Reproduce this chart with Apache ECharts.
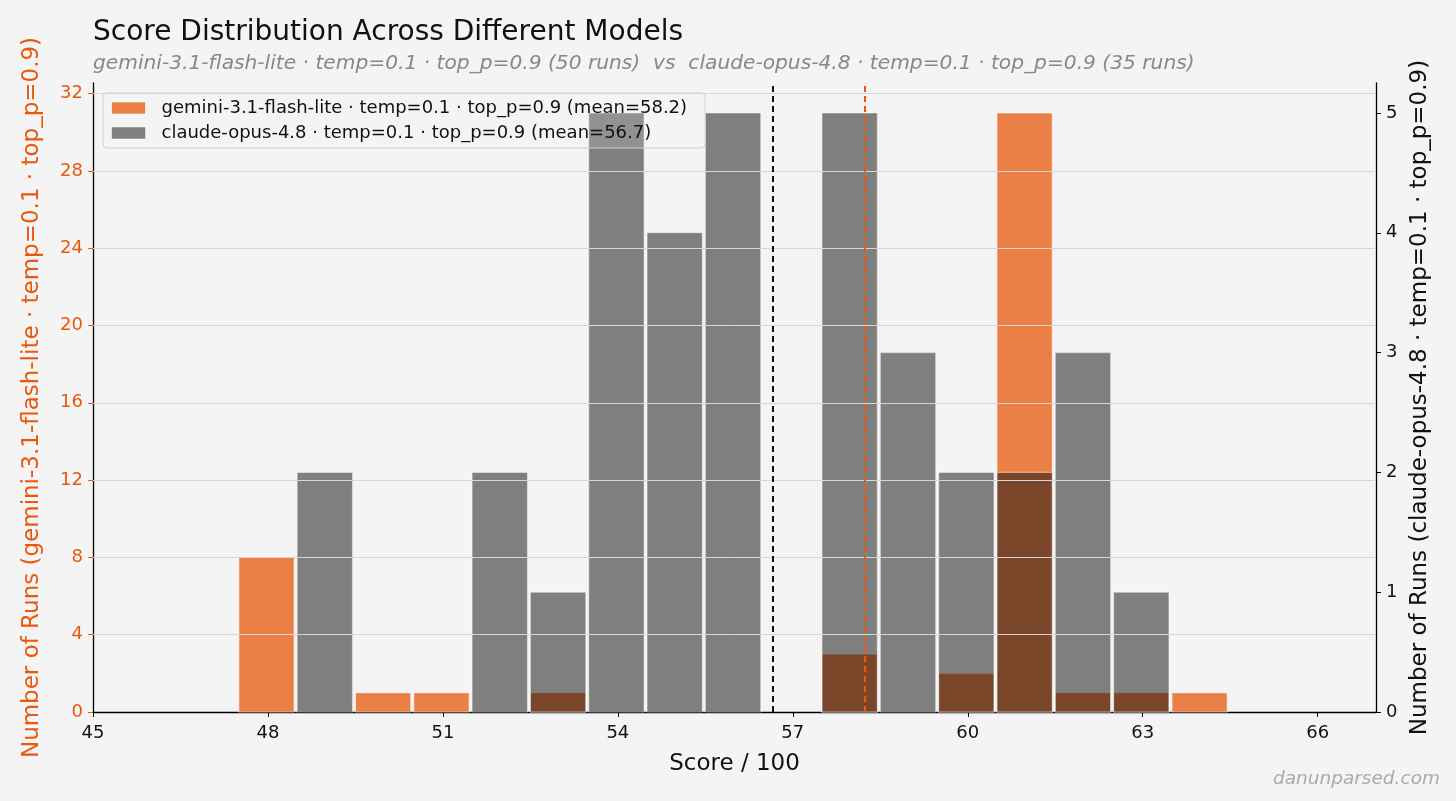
<!DOCTYPE html>
<html>
<head>
<meta charset="utf-8">
<script src="https://cdn.jsdelivr.net/npm/echarts@6/dist/echarts.min.js"></script>
<style>
html,body{margin:0;padding:0;background:#f4f4f4;}
#chart{width:1456px;height:801px;}
</style>
</head>
<body>
<div id="chart"></div>
<script>
// ---- data ----
const scoreBins   = [48, 49, 50, 51, 52, 53, 54, 55, 56, 57, 58, 59, 60, 61, 62, 63, 64];
const geminiRuns  = [ 8,  0,  1,  1,  0,  1,  0,  0,  0,  0,  3,  0,  2, 31,  1,  1,  1];
const claudeRuns  = [ 0,  2,  0,  0,  2,  1,  5,  4,  5,  0,  5,  3,  2,  2,  3,  1,  0];
const xTicks      = [45, 48, 51, 54, 57, 60, 63, 66];
const leftTicks   = [0, 4, 8, 12, 16, 20, 24, 28, 32];
const rightTicks  = [0, 1, 2, 3, 4, 5];
const geminiName  = 'gemini-3.1-flash-lite · temp=0.1 · top_p=0.9';
const claudeName  = 'claude-opus-4.8 · temp=0.1 · top_p=0.9';

function total(a){ return a.reduce((s,v)=>s+v,0); }
function mean(counts){ let s=0; counts.forEach((n,i)=>{ s += n*scoreBins[i]; }); return s/total(counts); }
const geminiMean = mean(geminiRuns);
const claudeMean = mean(claudeRuns);
const geminiLabel = `${geminiName} (mean=${geminiMean.toFixed(1)})`;
const claudeLabel = `${claudeName} (mean=${claudeMean.toFixed(1)})`;

const ORANGE = '#E8590C';
const ORANGE_FILL = 'rgba(232,89,12,0.75)';
const GRAY_FILL = 'rgba(10,10,10,0.5)';
const FONT = 'DejaVu Sans';

function renderBar(params, api){
  const c = api.value(0), n = api.value(1);
  if (!n) return null;
  const p0 = api.coord([c - 0.5, 0]);
  const p1 = api.coord([c + 0.45, n]);
  return {
    type: 'rect',
    shape: { x: p0[0], y: p1[1], width: p1[0]-p0[0], height: p0[1]-p1[1] },
    style: api.style()
  };
}

const chart = echarts.init(document.getElementById('chart'), null, {renderer:'canvas'});
chart.setOption({
  backgroundColor: '#f4f4f4',
  animation: false,
  textStyle: { fontFamily: FONT },
  title: [
    { text: 'Score Distribution Across Different Models', left: 88, top: 14,
      textStyle: { fontFamily: FONT, fontSize: 28, fontWeight: 'normal', color: '#111' } },
    { text: `${geminiName} (${total(geminiRuns)} runs)  vs  ${claudeName} (${total(claudeRuns)} runs)`, left: 88, top: 49,
      textStyle: { fontFamily: FONT, fontSize: 20.2, fontWeight: 'normal', fontStyle: 'italic', color: '#888' } },
    { text: 'danunparsed.com', right: 11, bottom: 7,
      textStyle: { fontFamily: FONT, fontSize: 18.5, fontWeight: 'normal', fontStyle: 'italic', color: '#aaa' } }
  ],
  legend: {
    left: 103, top: 93, orient: 'vertical',
    itemWidth: 34, itemHeight: 12, itemGap: 7,
    padding: [6, 18, 6, 8],
    backgroundColor: 'rgba(245,245,245,0.15)', borderColor: '#d0d0d0', borderWidth: 1, borderRadius: 4,
    textStyle: { fontFamily: FONT, fontSize: 18, color: '#111', padding: [0,0,0,11] },
    data: [
      { name: geminiLabel, icon: 'rect', itemStyle: { color: ORANGE_FILL, borderColor: 'rgba(255,255,255,0.6)', borderWidth: 1 } },
      { name: claudeLabel, icon: 'rect', itemStyle: { color: GRAY_FILL, borderColor: 'rgba(255,255,255,0.5)', borderWidth: 1 } }
    ]
  },
  grid: { left: 93, right: 80, top: 83, bottom: 89, containLabel: false },
  xAxis: {
    type: 'value', min: 45, max: 67, interval: 3,
    name: 'Score / 100', nameLocation: 'middle', nameGap: 41,
    nameTextStyle: { fontFamily: FONT, fontSize: 23, color: '#111' },
    axisLine: { show: true, onZero: false, lineStyle: { color: '#000', width: 1.3 } },
    axisTick: { show: true, length: 5, lineStyle: { color: '#000' }, customValues: xTicks },
    axisLabel: { fontFamily: FONT, fontSize: 18, color: '#111', margin: 12, customValues: xTicks },
    splitLine: { show: false }
  },
  yAxis: [
    {
      type: 'value', min: 0, max: 32.55, interval: 4, position: 'left',
      name: `Number of Runs (${geminiName})`, nameLocation: 'middle', nameGap: 49,
      nameTextStyle: { fontFamily: FONT, fontSize: 23, color: ORANGE },
      axisLine: { show: true, lineStyle: { color: '#000', width: 1.3 } },
      axisTick: { show: true, length: 5, lineStyle: { color: ORANGE }, customValues: leftTicks },
      axisLabel: { fontFamily: FONT, fontSize: 18, color: ORANGE, margin: 10, customValues: leftTicks },
      splitLine: { show: false }
    },
    {
      type: 'value', min: 0, max: 5.25, interval: 1, position: 'right',
      name: `Number of Runs (${claudeName})`, nameLocation: 'middle', nameGap: 33,
      nameTextStyle: { fontFamily: FONT, fontSize: 23, color: '#111' },
      axisLine: { show: true, lineStyle: { color: '#000', width: 1.3 } },
      axisTick: { show: true, length: 5, lineStyle: { color: '#000' }, customValues: rightTicks },
      axisLabel: { fontFamily: FONT, fontSize: 18, color: '#111', margin: 10, customValues: rightTicks },
      splitLine: { show: false }
    }
  ],
  series: [
    {
      name: 'grid', type: 'line', data: [], yAxisIndex: 0, z: 1, silent: true,
      markLine: {
        silent: true, symbol: 'none', label: { show: false },
        lineStyle: { color: '#d6d6d6', width: 1, type: 'solid' },
        data: leftTicks.filter(v => v > 0).map(v => ({ yAxis: v }))
      }
    },
    {
      name: geminiLabel, type: 'custom', yAxisIndex: 0, z: 2,
      renderItem: renderBar,
      encode: { x: 0, y: 1 },
      itemStyle: { color: ORANGE_FILL, borderColor: 'rgba(255,255,255,0.6)', borderWidth: 1.2 },
      data: scoreBins.map((c,i) => [c, geminiRuns[i]]),
      markLine: {
        silent: true, symbol: 'none', label: { show: false },
        lineStyle: { color: ORANGE, width: 2, type: [6, 4] },
        data: [{ xAxis: geminiMean }]
      }
    },
    {
      name: claudeLabel, type: 'custom', yAxisIndex: 1, z: 3,
      renderItem: renderBar,
      encode: { x: 0, y: 1 },
      itemStyle: { color: GRAY_FILL, borderColor: 'rgba(255,255,255,0.45)', borderWidth: 1.2 },
      data: scoreBins.map((c,i) => [c, claudeRuns[i]]),
      markLine: {
        silent: true, symbol: 'none', label: { show: false },
        lineStyle: { color: '#111', width: 2, type: [6, 4] },
        data: [{ xAxis: claudeMean }]
      }
    }
  ]
});
</script>
</body>
</html>
